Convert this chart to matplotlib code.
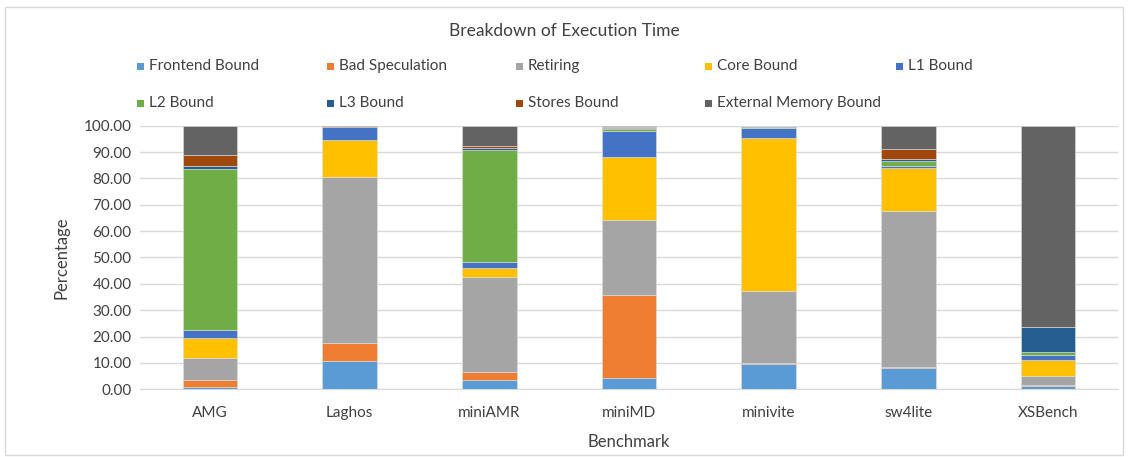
import numpy as np
import matplotlib
matplotlib.use("Agg")
import matplotlib.pyplot as plt
from matplotlib.patches import Rectangle

plt.rcParams['font.family'] = ['Lato', 'DejaVu Sans']

benchmarks = ["AMG", "Laghos", "miniAMR", "miniMD", "minivite", "sw4lite", "XSBench"]

# percentages, one list per category, in benchmark order
frontend_bound = [0.8, 10.9, 3.6, 4.3, 9.5, 8.2, 1.3]
bad_speculation = [2.9, 6.8, 2.9, 31.4, 0.3, 0.1, 0.3]
retiring = [8.2, 62.9, 36.0, 28.7, 27.4, 59.3, 3.3]
core_bound = [7.6, 13.9, 3.5, 23.8, 58.2, 16.4, 6.1]
l1_bound = [3.0, 4.9, 2.2, 9.8, 3.9, 0.8, 2.2]
l2_bound = [61.1, 0.1, 42.5, 0.7, 0.1, 1.8, 1.0]
l3_bound = [1.3, 0.1, 0.8, 0.4, 0.4, 0.6, 9.5]
stores_bound = [3.9, 0.3, 0.9, 0.5, 0.0, 3.9, 0.1]
ext_memory_bound = [11.2, 0.2, 7.6, 0.4, 0.2, 8.9, 76.2]

series = [
    ("Frontend Bound", frontend_bound, "#5B9BD5"),
    ("Bad Speculation", bad_speculation, "#ED7D31"),
    ("Retiring", retiring, "#A5A5A5"),
    ("Core Bound", core_bound, "#FFC000"),
    ("L1 Bound", l1_bound, "#4472C4"),
    ("L2 Bound", l2_bound, "#70AD47"),
    ("L3 Bound", l3_bound, "#255E91"),
    ("Stores Bound", stores_bound, "#9E480E"),
    ("External Memory Bound", ext_memory_bound, "#636363"),
]

W, H = 1128, 457
fig = plt.figure(figsize=(W / 100, H / 100), dpi=100)
ax = fig.add_axes([140 / W, 1 - 389.3 / H, (1118 - 140) / W, (389.3 - 125.7) / H])

x = np.arange(len(benchmarks))
bottom = np.zeros(len(benchmarks))
for name, vals, col in series:
    vals = np.array(vals)
    ax.bar(x, vals, 0.39, bottom=bottom, color=col, edgecolor="#e0e0e0",
           linewidth=0.4, label=name, zorder=3)
    bottom += vals

ax.set_xlim(-0.5, len(benchmarks) - 0.5)
ax.set_ylim(0, 100)
ax.set_yticks(np.arange(0, 101, 10))
ax.set_yticklabels([f"{v:.2f}" for v in np.arange(0, 101, 10)])
ax.set_xticks(x)
ax.set_xticklabels(benchmarks)
ax.tick_params(axis="both", length=0, labelsize=11, colors="#404040", pad=6)
ax.tick_params(axis="x", pad=12)
ax.yaxis.grid(True, color="#d9d9d9", linewidth=1, zorder=0)
for s in ["top", "right", "left"]:
    ax.spines[s].set_visible(False)
ax.spines["bottom"].set_color("#d9d9d9")
ax.set_ylabel("Percentage", fontsize=12, color="#404040", labelpad=10)
ax.set_xlabel("Benchmark", fontsize=12, color="#404040", labelpad=10)

fig.text(0.5, 1 - 31 / H, "Breakdown of Execution Time", ha="center", va="center",
         fontsize=12.5, color="#404040")

# legend laid out like the Excel one: 5 equally spaced columns, 2 rows
col_x = [137, 327, 516, 705, 896]
row_y = [66, 103]
for i, (name, vals, col) in enumerate(series):
    r, c = divmod(i, 5)
    px, py = col_x[c], row_y[r]
    fig.patches.append(Rectangle((px / W, 1 - (py + 3.5) / H), 7 / W, 7 / H,
                                 transform=fig.transFigure, facecolor=col,
                                 edgecolor="none"))
    fig.text((px + 12) / W, 1 - py / H, name, ha="left", va="center",
             fontsize=11, color="#404040")

# chart border
fig.patches.append(Rectangle((5 / W, 2 / H), (W - 10) / W, (H - 9) / H,
                             transform=fig.transFigure, fill=False,
                             edgecolor="#d9d9d9", linewidth=1))

fig.savefig("out.png", dpi=100, facecolor="white")
